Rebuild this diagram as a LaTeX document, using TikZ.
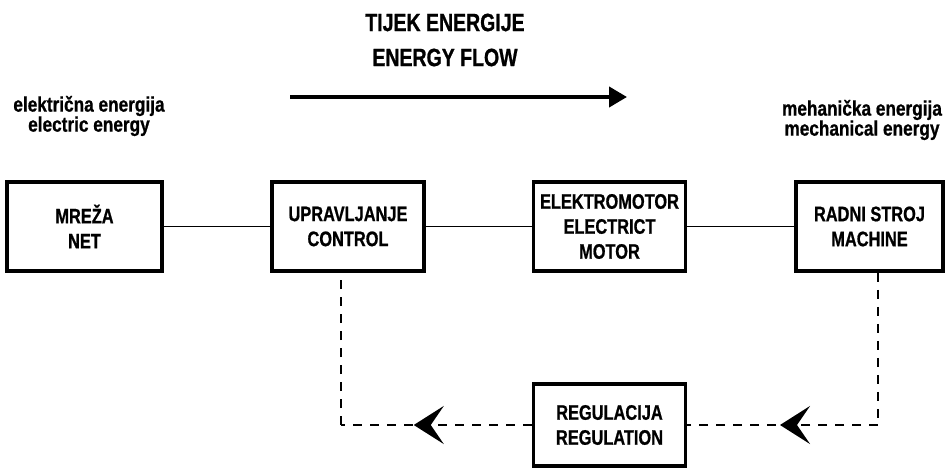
\documentclass[tikz,border=0pt]{standalone}
\usepackage{fontspec}
\usetikzlibrary{arrows.meta,decorations.markings}
\newfontfamily\condfont{Liberation Sans}[FakeStretch=0.78,BoldFeatures={FakeBold=0.8}]
\newfontfamily\labfont{Liberation Sans}[FakeStretch=0.82,BoldFeatures={FakeBold=0.8}]
\begin{document}
\begin{tikzpicture}[x=1pt,y=-1pt,
  box/.style={draw,line width=3.5pt,minimum width=152pt,minimum height=89pt,inner sep=0pt,align=center,
    font=\condfont\bfseries\fontsize{21}{25}\selectfont},
  link/.style={line width=1.5pt},
  fb/.style={line width=2.2pt,dash pattern=on 9pt off 8pt},
  tipmark/.style={postaction={decorate},decoration={markings,
    mark=at position #1 with {\arrow{Stealth[length=30pt,width=38pt,inset=13pt]}}}},
  lab/.style={align=center,font=\labfont\bfseries\fontsize{21}{20}\selectfont},
  ttl/.style={align=center,font=\condfont\bfseries\fontsize{25}{35}\selectfont}]
\useasboundingbox (0,0) rectangle (949,470);
\fill[white] (0,0) rectangle (949,470);

\node[ttl] (title) at (445,40) {TIJEK ENERGIJE\\ENERGY FLOW};
\coordinate (ea) at (290,97);
\coordinate (eb) at (627,97);
\draw[line width=4pt,-{Triangle[length=18pt,width=20pt]}] (ea) -- (eb);

\node[lab] (lel) at (89,116) {električna energija\\electric energy};
\node[lab] (rel) at (862,120) {mehanička energija\\mechanical energy};

\node[box,minimum width=155pt] (net) at (84.5,226.5) {MREŽA\\NET};
\node[box] (ctrl) at (348,226.5) {UPRAVLJANJE\\CONTROL};
\node[box] (motor) at (609.5,226.5) {ELEKTROMOTOR\\ELECTRICT\\MOTOR};
\node[box,minimum width=147pt] (mach) at (869.5,226.5) {RADNI STROJ\\MACHINE};
\node[box,minimum height=82pt] (reg) at (609.5,425) {REGULACIJA\\REGULATION};

\draw[link] (net) -- (ctrl);
\draw[link] (ctrl) -- (motor);
\draw[link] (motor) -- (mach);

\coordinate (cr) at (878,425);
\coordinate (cl) at (341,425);
\draw[fb] ([xshift=8.5pt]mach.south) -- (cr);
\draw[fb,tipmark=98pt] (cr) -- (reg.east);
\draw[fb,tipmark=118pt] (reg.west) -- (cl);
\draw[fb] (cl) -- ([xshift=-7pt]ctrl.south);
\end{tikzpicture}
\end{document}
